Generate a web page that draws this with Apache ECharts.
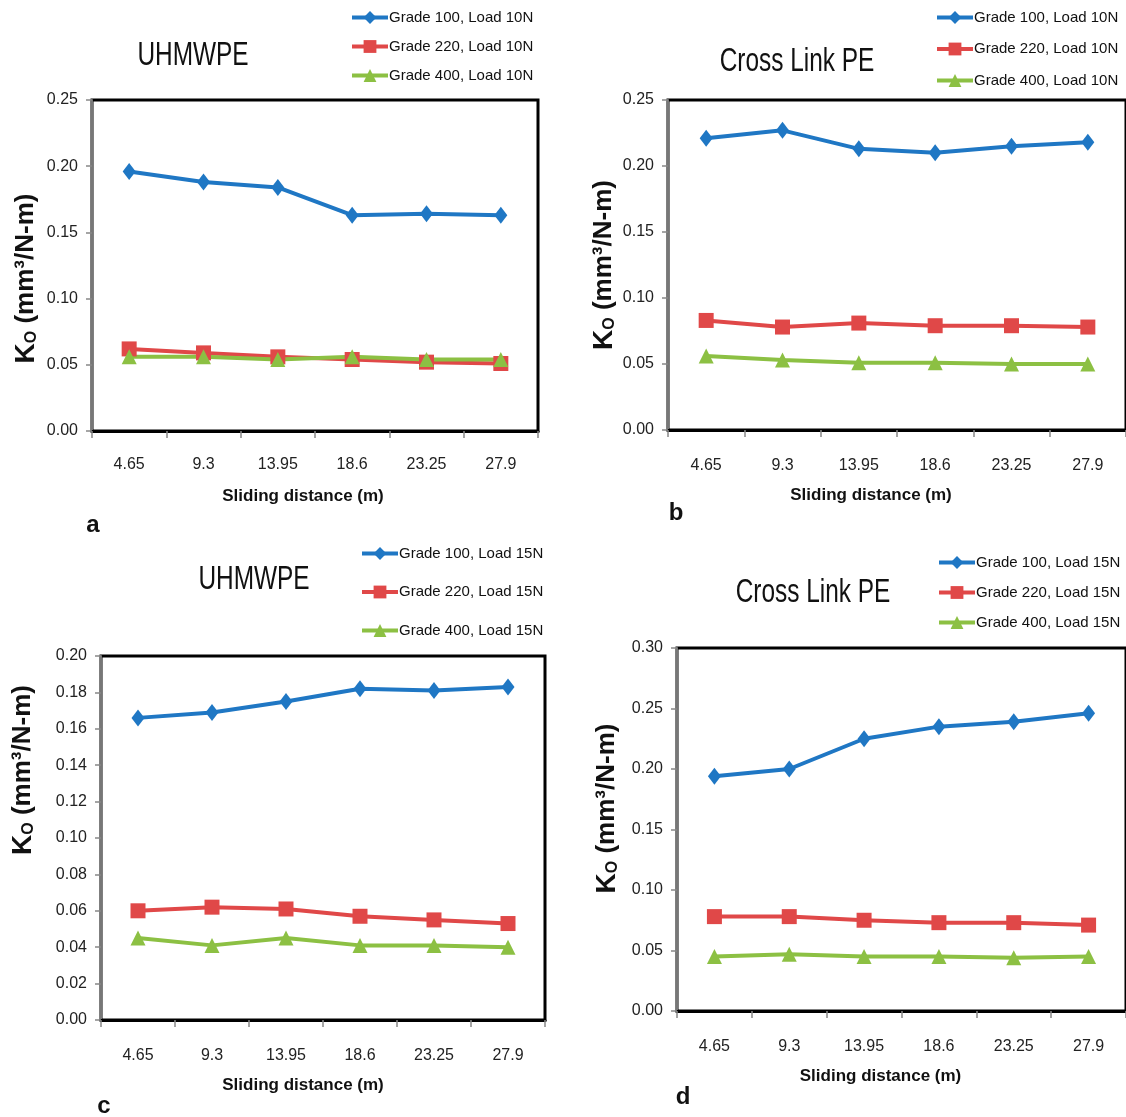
<!DOCTYPE html>
<html>
<head>
<meta charset="utf-8">
<script src="https://cdn.jsdelivr.net/npm/echarts@6/dist/echarts.min.js"></script>
<style>
  html, body { margin: 0; padding: 0; background: #fff; }
  #main { width: 1126px; height: 1117px; }
</style>
</head>
<body>
<div id="main"></div>
<script>
// sliding distance categories (m)
var distances = ['4.65', '9.3', '13.95', '18.6', '23.25', '27.9'];

// a: UHMWPE, load 10N
var aGrade100 = [0.196, 0.188, 0.184, 0.163, 0.164, 0.163];
var aGrade220 = [0.062, 0.059, 0.056, 0.054, 0.052, 0.051];
var aGrade400 = [0.056, 0.056, 0.054, 0.056, 0.054, 0.054];
// b: Cross Link PE, load 10N
var bGrade100 = [0.221, 0.227, 0.213, 0.210, 0.215, 0.218];
var bGrade220 = [0.083, 0.078, 0.081, 0.079, 0.079, 0.078];
var bGrade400 = [0.056, 0.053, 0.051, 0.051, 0.050, 0.050];
// c: UHMWPE, load 15N
var cGrade100 = [0.166, 0.169, 0.175, 0.182, 0.181, 0.183];
var cGrade220 = [0.060, 0.062, 0.061, 0.057, 0.055, 0.053];
var cGrade400 = [0.045, 0.041, 0.045, 0.041, 0.041, 0.040];
// d: Cross Link PE, load 15N
var dGrade100 = [0.194, 0.200, 0.225, 0.235, 0.239, 0.246];
var dGrade220 = [0.078, 0.078, 0.075, 0.073, 0.073, 0.071];
var dGrade400 = [0.045, 0.047, 0.045, 0.045, 0.044, 0.045];

var legend10 = ['Grade 100, Load 10N', 'Grade 220, Load 10N', 'Grade 400, Load 10N'];
var legend15 = ['Grade 100, Load 15N', 'Grade 220, Load 15N', 'Grade 400, Load 15N'];

var sans = "'Liberation Sans', Arial, sans-serif";
var colors = ['#1f77c4', '#e04848', '#8cc043'];
var symbols = ['diamond', 'rect', 'triangle'];
var symbolSizes = [[13, 17], 15, 15];

var panels = [
  { title: 'UHMWPE', tx: 193, ty: 56, letter: 'a', lx: 93, ly: 525,
    grid: { left: 92, top: 100, width: 446, height: 331 },
    max: 0.25, interval: 0.05, labelMargin: 26,
    xPad: 24, yGap: 52, yPad: [0, 26, 0, 0],
    legend: { left: 350, top: 10, itemGap: 14 }, names: legend10,
    data: [aGrade100, aGrade220, aGrade400] },
  { title: 'Cross Link PE', tx: 797, ty: 62, letter: 'b', lx: 676, ly: 513,
    grid: { left: 668, top: 100, width: 460, height: 330 },
    max: 0.25, interval: 0.05, labelMargin: 28,
    xPad: 52, yGap: 50, yPad: [0, 0, 0, 0],
    legend: { left: 935, top: 10, itemGap: 16.5 }, names: legend10,
    data: [bGrade100, bGrade220, bGrade400] },
  { title: 'UHMWPE', tx: 254, ty: 580, letter: 'c', lx: 104, ly: 1106,
    grid: { left: 101, top: 656, width: 444, height: 364 },
    max: 0.20, interval: 0.02, labelMargin: 28,
    xPad: 40, yGap: 64, yPad: [0, 0, 0, 136],
    legend: { left: 360, top: 546, itemGap: 23.5 }, names: legend15,
    data: [cGrade100, cGrade220, cGrade400] },
  { title: 'Cross Link PE', tx: 813, ty: 593, letter: 'd', lx: 683, ly: 1097,
    grid: { left: 677, top: 648, width: 455, height: 363 },
    max: 0.30, interval: 0.05, labelMargin: 28,
    xPad: 42, yGap: 56, yPad: [0, 0, 0, 42],
    legend: { left: 937, top: 555, itemGap: 15 }, names: legend15,
    data: [dGrade100, dGrade220, dGrade400] }
];

var option = {
  backgroundColor: '#fff',
  animation: false,
  grid: [], xAxis: [], yAxis: [], series: [], legend: [], graphic: []
};

panels.forEach(function (p, i) {
  option.grid.push({
    left: p.grid.left, top: p.grid.top, width: p.grid.width, height: p.grid.height,
    show: true, borderColor: '#000', borderWidth: 3, containLabel: false
  });
  option.xAxis.push({
    type: 'category', gridIndex: i, data: distances, boundaryGap: true,
    axisLine: { lineStyle: { color: '#000', width: 3 } },
    axisTick: { show: true, length: 7, lineStyle: { color: '#888', width: 1.5 } },
    axisLabel: { color: '#222', fontFamily: sans, fontSize: 16, margin: p.labelMargin },
    name: 'Sliding distance (m)', nameLocation: 'middle', nameGap: 57,
    nameTextStyle: { color: '#111', fontFamily: sans, fontSize: 17, fontWeight: 'bold',
      padding: [0, p.xPad, 0, 0] },
    splitLine: { show: false }
  });
  option.yAxis.push({
    type: 'value', gridIndex: i, min: 0, max: p.max, interval: p.interval,
    axisLine: { show: true, lineStyle: { color: '#777', width: 2 } },
    axisTick: { show: true, length: 6, lineStyle: { color: '#888', width: 1.5 } },
    axisLabel: { color: '#222', fontFamily: sans, fontSize: 16, margin: 14,
      formatter: function (v) { return v.toFixed(2); } },
    splitLine: { show: false },
    name: '{k|K}{o|O}{t| (mm³/N-m)}', nameLocation: 'middle', nameRotate: 90, nameGap: p.yGap,
    nameTextStyle: {
      padding: p.yPad,
      rich: {
        k: { fontFamily: sans, fontSize: 28, fontWeight: 'bold', color: '#111' },
        o: { fontFamily: sans, fontSize: 16, fontWeight: 'bold', color: '#111', verticalAlign: 'bottom', padding: [10, 0, 0, 0] },
        t: { fontFamily: sans, fontSize: 26, fontWeight: 'bold', color: '#111' }
      }
    }
  });
  p.data.forEach(function (vals, s) {
    option.series.push({
      type: 'line', name: p.names[s], xAxisIndex: i, yAxisIndex: i,
      data: vals, color: colors[s],
      symbol: symbols[s], symbolSize: symbolSizes[s],
      lineStyle: { width: 4, color: colors[s] },
      itemStyle: { color: colors[s] }
    });
  });
  option.legend.push({
    data: p.names, orient: 'vertical', left: p.legend.left, top: p.legend.top,
    padding: 0, itemGap: p.legend.itemGap, itemWidth: 36, itemHeight: 16,
    lineStyle: { width: 4 },
    textStyle: { color: '#111', fontFamily: sans, fontSize: 15, padding: [0, 0, 0, -4] }
  });
  // panel titles, squeezed a bit like the original condensed face
  option.graphic.push({
    type: 'text', x: p.tx, y: p.ty, scaleX: 0.74,
    style: { text: p.title, fill: '#111', font: '33px ' + sans,
      textAlign: 'center', textVerticalAlign: 'middle' }
  });
  option.graphic.push({
    type: 'text', x: p.lx, y: p.ly,
    style: { text: p.letter, fill: '#111', font: 'bold 24px ' + sans,
      textAlign: 'center', textVerticalAlign: 'middle' }
  });
});

var myChart = echarts.init(document.getElementById('main'));
myChart.setOption(option);
</script>
</body>
</html>
